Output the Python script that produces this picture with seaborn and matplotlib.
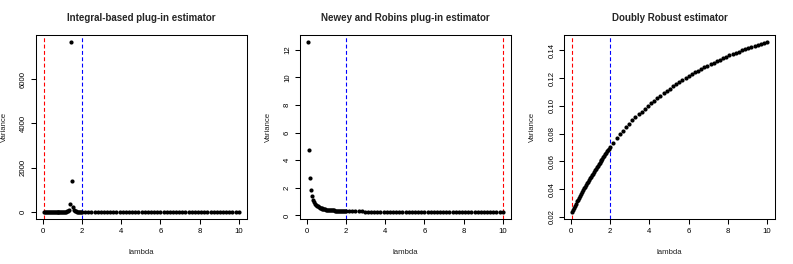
import matplotlib
matplotlib.use("Agg")
import matplotlib.pyplot as plt
import seaborn as sns
import pandas as pd
from matplotlib.ticker import FormatStrFormatter

# ===== DATA ==================================================================

# lambda grid: fine steps up to 2, coarser steps from 2 to 10
lam_dense = [0.05, 0.10, 0.15, 0.20, 0.25, 0.30, 0.35, 0.40, 0.45, 0.50,
             0.55, 0.60, 0.65, 0.70, 0.75, 0.80, 0.85, 0.90, 0.95, 1.00,
             1.05, 1.10, 1.15, 1.20, 1.25, 1.30, 1.35, 1.40, 1.45, 1.50,
             1.55, 1.60, 1.65, 1.70, 1.75, 1.80, 1.85, 1.90, 1.95, 2.00]
lam_sparse = [2.16, 2.32, 2.48, 2.64, 2.80, 2.96, 3.12, 3.28, 3.44, 3.60,
              3.76, 3.92, 4.08, 4.24, 4.40, 4.56, 4.72, 4.88, 5.04, 5.20,
              5.36, 5.52, 5.68, 5.84, 6.00, 6.16, 6.32, 6.48, 6.64, 6.80,
              6.96, 7.12, 7.28, 7.44, 7.60, 7.76, 7.92, 8.08, 8.24, 8.40,
              8.56, 8.72, 8.88, 9.04, 9.20, 9.36, 9.52, 9.68, 9.84, 10.00]

# Integral-based plug-in estimator
var_integral = [4, 5, 5, 6, 6, 6, 7, 7, 7, 8,
                8, 8, 9, 9, 10, 10, 11, 12, 13, 14,
                15, 17, 20, 25, 35, 55, 120, 390, 7690, 1400,
                250, 110, 60, 40, 30, 24, 20, 17, 15, 13,
                12, 11, 10, 10, 9, 9, 8, 8, 8, 7,
                7, 7, 7, 6, 6, 6, 6, 6, 5, 5,
                5, 5, 5, 5, 5, 4, 4, 4, 4, 4,
                4, 4, 4, 4, 4, 4, 3, 3, 3, 3,
                3, 3, 3, 3, 3, 3, 3, 3, 3, 3]

# Newey and Robins plug-in estimator
var_newey = [12.6, 4.75, 2.70, 1.87, 1.42, 1.15, 0.98, 0.86, 0.77, 0.70,
             0.65, 0.60, 0.565, 0.535, 0.51, 0.49, 0.47, 0.455, 0.44, 0.425,
             0.415, 0.405, 0.395, 0.385, 0.377, 0.370, 0.363, 0.357, 0.351, 0.345,
             0.340, 0.335, 0.330, 0.326, 0.322, 0.318, 0.314, 0.310, 0.307, 0.304,
             0.299, 0.295, 0.291, 0.288, 0.285, 0.282, 0.279, 0.277, 0.274, 0.272,
             0.270, 0.268, 0.266, 0.264, 0.263, 0.261, 0.260, 0.258, 0.257, 0.256,
             0.255, 0.253, 0.252, 0.251, 0.250, 0.249, 0.249, 0.248, 0.247, 0.246,
             0.245, 0.245, 0.244, 0.243, 0.243, 0.242, 0.241, 0.241, 0.240, 0.240,
             0.239, 0.239, 0.238, 0.238, 0.237, 0.237, 0.236, 0.236, 0.236, 0.235]

# Doubly Robust estimator
var_dr = [0.0234, 0.0250, 0.0266, 0.0281, 0.0296, 0.0311, 0.0325, 0.0339, 0.0353, 0.0366,
          0.0379, 0.0392, 0.0405, 0.0418, 0.0430, 0.0442, 0.0454, 0.0466, 0.0478, 0.0490,
          0.0501, 0.0512, 0.0523, 0.0534, 0.0545, 0.0556, 0.0567, 0.0578, 0.0588, 0.0599,
          0.0610, 0.0620, 0.0631, 0.0641, 0.0651, 0.0661, 0.0671, 0.0681, 0.0691, 0.0701,
          0.0735, 0.0765, 0.0794, 0.0821, 0.0847, 0.0871, 0.0894, 0.0916, 0.0937, 0.0958,
          0.0978, 0.0998, 0.1017, 0.1036, 0.1054, 0.1072, 0.1090, 0.1107, 0.1123, 0.1139,
          0.1155, 0.1170, 0.1185, 0.1199, 0.1213, 0.1227, 0.1240, 0.1253, 0.1265, 0.1277,
          0.1289, 0.1300, 0.1311, 0.1322, 0.1332, 0.1342, 0.1352, 0.1362, 0.1371, 0.1380,
          0.1389, 0.1398, 0.1407, 0.1415, 0.1423, 0.1431, 0.1439, 0.1447, 0.1455, 0.1462]

titles = ["Integral-based plug-in estimator",
          "Newey and Robins plug-in estimator",
          "Doubly Robust estimator"]
red_lines = [0.05, 10.0, 0.05]   # lambda with the smallest variance
blue_line = 2.0

# ===== STYLE =================================================================

sns.set_theme(style="ticks")
plt.rcParams['font.family'] = ['Liberation Sans', 'DejaVu Sans']
plt.rcParams['axes.edgecolor'] = 'black'
plt.rcParams['axes.linewidth'] = 0.75
plt.rcParams['xtick.color'] = 'black'
plt.rcParams['ytick.color'] = 'black'
plt.rcParams['xtick.major.size'] = 3.5
plt.rcParams['ytick.major.size'] = 3.5
plt.rcParams['xtick.major.width'] = 0.75
plt.rcParams['ytick.major.width'] = 0.75

lam = lam_dense + lam_sparse
df = pd.DataFrame({'lambda': lam, 'integral': var_integral,
                   'newey': var_newey, 'dr': var_dr})

fig = plt.figure(figsize=(7.93, 2.64), dpi=100)
lefts = [0.0454, 0.3783, 0.7116]
axes = [fig.add_axes([l, 0.1705, 0.2655, 0.698]) for l in lefts]

for ax, col, title, red in zip(axes, ['integral', 'newey', 'dr'], titles, red_lines):
    sns.scatterplot(data=df, x='lambda', y=col, ax=ax, color='black',
                    s=9, linewidth=0, zorder=3)
    ax.axvline(red, color='#ff0000', lw=0.8, ls=(0, (3.5, 2.2)), zorder=2)
    ax.axvline(blue_line, color='#0000ff', lw=0.8, ls=(0, (3.5, 2.2)), zorder=2)
    ax.margins(x=0.04, y=0.04)
    ax.set_xticks([0, 2, 4, 6, 8, 10])
    ax.tick_params(labelsize=5.6, pad=3)
    ax.tick_params(axis='y', labelrotation=90)
    ax.set_xlabel('lambda', fontsize=5.6, color='#222222')
    ax.set_ylabel('Variance', fontsize=5.6, color='#222222')
    ax.xaxis.set_label_coords(0.5, -0.165)
    ax.yaxis.set_label_coords(-0.135, 0.5)
    ax.text(0.5, 1.09, title, transform=ax.transAxes, ha='center', va='center',
            fontsize=7, fontweight='bold')
    for s in ax.spines.values():
        s.set_visible(True)

axes[0].set_yticks([0, 2000, 4000, 6000])
axes[1].set_yticks([0, 2, 4, 6, 8, 10, 12])
axes[2].set_yticks([0.02, 0.04, 0.06, 0.08, 0.10, 0.12, 0.14])
axes[2].yaxis.set_major_formatter(FormatStrFormatter('%.2f'))
for ax in axes:
    for lbl in ax.get_yticklabels():
        lbl.set_va('center')

fig.savefig('out.png', dpi=100)
